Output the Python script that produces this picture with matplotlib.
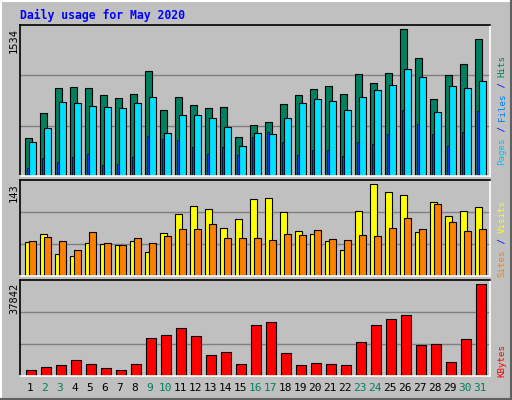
import matplotlib
matplotlib.use("Agg")
import matplotlib.pyplot as plt
from matplotlib.lines import Line2D

days = list(range(1, 32))
weekend_days = [2, 3, 9, 10, 16, 17, 23, 24, 30, 31]
hits = [394, 655, 917, 927, 917, 844, 812, 854, 1095, 687, 823, 739, 708, 718, 404, 530,
        561, 750, 844, 906, 938, 854, 1063, 969, 1074, 1534, 1231, 802, 1053, 1168, 1429]
files = [359, 499, 770, 760, 729, 718, 708, 760, 823, 446, 634, 634, 603, 509, 310, 446,
         436, 603, 760, 802, 781, 687, 823, 896, 948, 1116, 1032, 666, 938, 917, 990]
pages = [80, 185, 143, 195, 227, 112, 122, 195, 415, 383, 373, 300, 227, 300, 216, 404,
         457, 352, 216, 268, 268, 206, 352, 331, 436, 687, 540, 436, 310, 457, 676]
visits = [53, 65, 34, 31, 51, 50, 48, 54, 37, 67, 96, 109, 104, 75, 89, 120,
          121, 99, 70, 65, 54, 40, 101, 143, 131, 126, 68, 115, 93, 101, 107]
sites = [54, 61, 54, 40, 68, 51, 48, 59, 51, 62, 73, 73, 81, 59, 59, 59,
         56, 65, 64, 71, 58, 56, 64, 62, 75, 90, 73, 112, 84, 70, 73]
kbytes = [2624, 3867, 4696, 6767, 5110, 3453, 2624, 5110, 15468, 16711, 19611, 16297, 8839,
          9667, 5110, 20854, 22097, 9253, 4696, 5524, 5110, 4696, 13810, 20854, 23340, 24997,
          12568, 12982, 5938, 15053, 37842]
title = "Daily usage for May 2020"

W, H = 512, 400
BG = "#C0C0C0"
fig = plt.figure(figsize=(W / 100, H / 100), dpi=100, facecolor=BG)
MONO = "DejaVu Sans Mono"

def fx(x): return x / W
def fy(y): return 1 - y / H

fig.add_artist(Line2D([0, 1], [fy(1), fy(1)], color="white", lw=1.5))
fig.add_artist(Line2D([fx(1), fx(1)], [0, 1], color="white", lw=1.5))
fig.add_artist(Line2D([0, 1], [fy(399), fy(399)], color="#606060", lw=1.5))
fig.add_artist(Line2D([fx(511), fx(511)], [0, 1], color="#606060", lw=1.5))

def panel(top, bottom, vmax, ratio):
    ax = fig.add_axes([fx(20), fy(bottom), fx(490) - fx(20), fy(top) - fy(bottom)])
    ax.set_facecolor(BG)
    ax.set_xlim(0, 470)
    ytop = vmax * ratio
    ax.set_ylim(0, ytop)
    for g in (ytop / 3, 2 * ytop / 3):
        ax.axhline(g, color="#808080", lw=1, zorder=0)
    ax.set_xticks([]); ax.set_yticks([])
    ax.spines["top"].set_color("black"); ax.spines["left"].set_color("black")
    ax.spines["bottom"].set_color("white"); ax.spines["right"].set_color("white")
    for s in ax.spines.values():
        s.set_linewidth(1.2)
    fig.text(fx(14), fy(top + 3), str(vmax), rotation=90, ha="center", va="top",
             family=MONO, fontsize=7.5, color="black")
    return ax

x0 = [5 + (d - 1) * 15 for d in days]

ax1 = panel(25, 176, max(hits), 1.03)
ax1.bar([x + 0 for x in x0], hits, width=7, align="edge", color="#008060", edgecolor="black", lw=0.8)
ax1.bar([x + 4 for x in x0], files, width=7, align="edge", color="#00E0FF", edgecolor="black", lw=0.8)
ax1.bar([x + 2 for x in x0], pages, width=2, align="edge", color="#0040FF", edgecolor="black", lw=0.5)

ax2 = panel(180, 276, max(visits), 1.043)
ax2.bar(x0, visits, width=7, align="edge", color="#FFFF00", edgecolor="black", lw=0.8)
ax2.bar([x + 4 for x in x0], sites, width=7, align="edge", color="#FF8000", edgecolor="black", lw=0.8)

ax3 = panel(280, 376, max(kbytes), 1.043)
ax3.bar([x + 1 for x in x0], kbytes, width=10, align="edge", color="#FF0000", edgecolor="black", lw=0.8)

for d, x in zip(days, x0):
    col = "#008060" if d in weekend_days else "black"
    fig.text(fx(20 + x + 5), fy(388), str(d), ha="center", va="center",
             family=MONO, fontsize=8, color=col)

FS = 6.6
CH = FS * 0.602 * 100 / 72
def vlabel(bottom_y, parts):
    y = bottom_y
    for txt, col in parts:
        fig.text(fx(502), fy(y), txt, rotation=90, ha="center", va="bottom",
                 family=MONO, fontsize=FS, color=col)
        y -= len(txt) * CH

vlabel(165, [("Pages", "#00C0FF"), (" / ", "#0000FF"), ("Files", "#0080FF"), (" / ", "#0000FF"), ("Hits", "#008060")])
vlabel(277, [("Sites", "#FF8000"), (" / ", "#0000FF"), ("Visits", "#FFFF00")])
vlabel(377, [("KBytes", "#FF0000")])

fig.text(fx(20), fy(15), title, ha="left", va="center", family=MONO,
         fontsize=8.3, fontweight="bold", color="#0000FF")

fig.savefig("out.png", dpi=100, facecolor=BG)
